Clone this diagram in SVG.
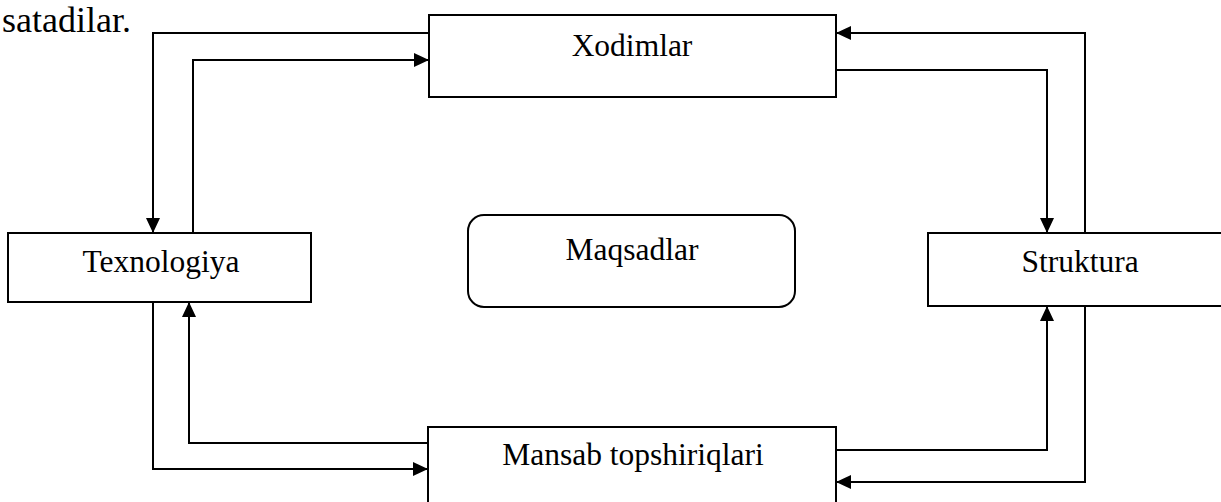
<svg xmlns="http://www.w3.org/2000/svg" width="1221" height="502" viewBox="0 0 1221 502">
<style>
.box{fill:#fff;stroke:#000;stroke-width:2}
.t{font-family:"Liberation Serif","Times New Roman",serif;font-size:31.5px;fill:#000;text-anchor:middle}
.c{fill:none;stroke:#000;stroke-width:2}
</style>
<defs>
<marker id="ah" markerUnits="userSpaceOnUse" markerWidth="16" markerHeight="14" viewBox="0 0 16 14" refX="15" refY="7" orient="auto">
<path d="M0,0 L15,7 L0,14 Z" fill="#000"/>
</marker>
</defs>
<rect width="1221" height="502" fill="#fff"/>
<text x="131" y="32" style="font-family:'Liberation Serif','Times New Roman',serif;font-size:36px;text-anchor:end">satadilar.</text>
<g id="connectors">
<path class="c" d="M429,33 H153 V233" marker-end="url(#ah)"/>
<path class="c" d="M193,233 V60 H429" marker-end="url(#ah)"/>
<path class="c" d="M836,70 H1047 V233" marker-end="url(#ah)"/>
<path class="c" d="M1085,233 V33 H836" marker-end="url(#ah)"/>
<path class="c" d="M1085,306 V482 H836" marker-end="url(#ah)"/>
<path class="c" d="M836,450 H1047 V306" marker-end="url(#ah)"/>
<path class="c" d="M153,302 V469 H428" marker-end="url(#ah)"/>
<path class="c" d="M428,443 H189 V302" marker-end="url(#ah)"/>
</g>
<g id="xodimlar">
<rect class="box" x="429" y="15" width="407" height="82"/>
<text class="t" x="632" y="56">Xodimlar</text>
</g>
<g id="texnologiya">
<rect class="box" x="8" y="233" width="303" height="69"/>
<text class="t" x="161" y="272">Texnologiya</text>
</g>
<g id="struktura">
<rect class="box" x="928" y="233" width="310" height="73"/>
<text class="t" x="1080" y="272">Struktura</text>
</g>
<g id="mansab">
<rect class="box" x="428" y="427" width="408" height="90"/>
<text class="t" x="633" y="465">Mansab topshiriqlari</text>
</g>
<g id="maqsadlar">
<rect class="box" x="468" y="215" width="327" height="92" rx="16" ry="16"/>
<text class="t" x="632" y="260">Maqsadlar</text>
</g>
</svg>
